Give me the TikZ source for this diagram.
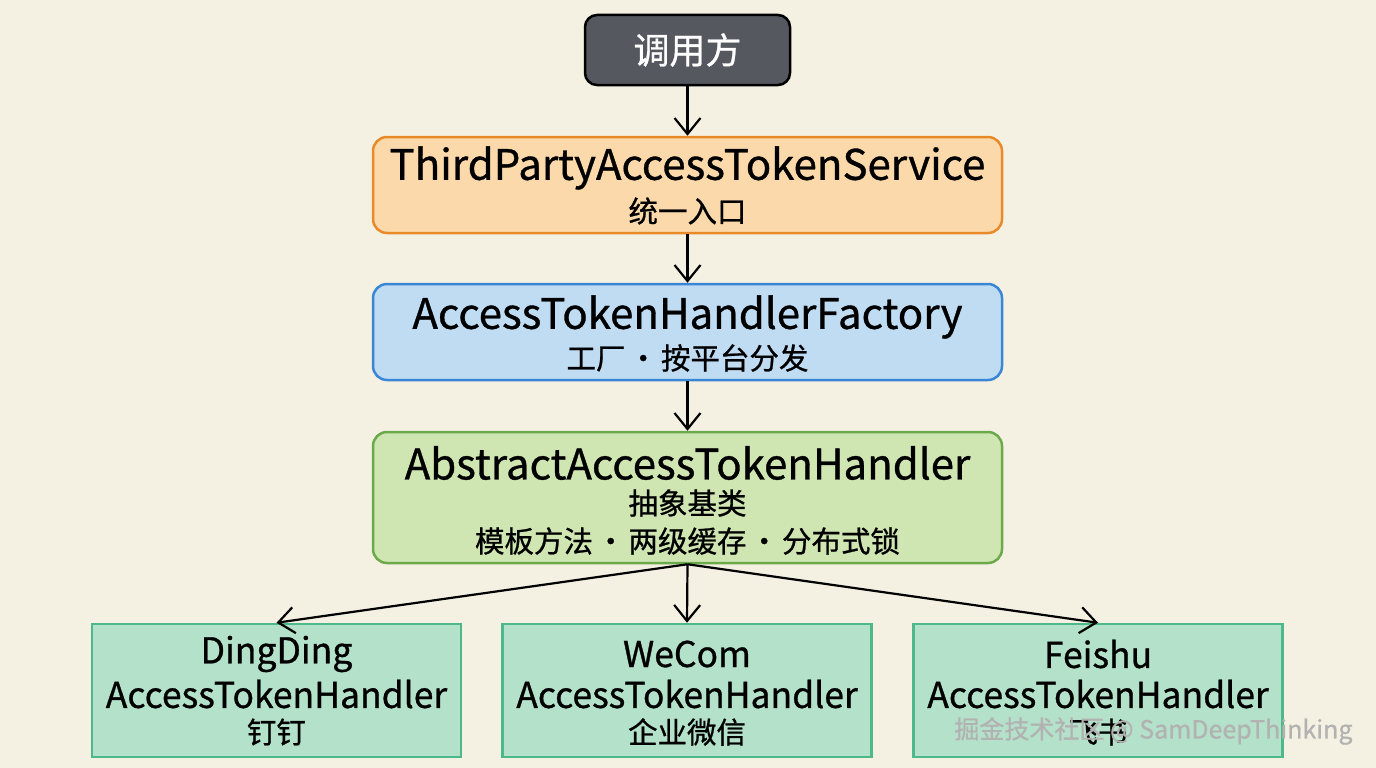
\documentclass[tikz,border=0pt]{standalone}
\usepackage{fontspec}
\setmainfont{Noto Sans CJK SC}[UprightFeatures={FakeBold=0.8}]
\usetikzlibrary{arrows.meta}
\definecolor{bg}{HTML}{F5F1E2}
\definecolor{callerfill}{HTML}{55585E}
\definecolor{orfill}{HTML}{FBD9AA}
\definecolor{ordraw}{HTML}{E98A2A}
\definecolor{blfill}{HTML}{BFDCF3}
\definecolor{bldraw}{HTML}{3A86D6}
\definecolor{grfill}{HTML}{CFE6B2}
\definecolor{grdraw}{HTML}{6BAA4B}
\definecolor{tlfill}{HTML}{B3E1C9}
\definecolor{tldraw}{HTML}{4DB88A}
\newcommand{\mydot}{\hspace{3pt}·\hspace{3pt}}
\tikzset{
  x=1pt, y=-1pt,
  mainbox/.style={rounded corners=14pt, line width=2.5pt, minimum width=629pt, inner sep=0pt},
  leafbox/.style={line width=2.5pt, draw=tldraw, fill=tlfill, minimum width=369pt, minimum height=133pt, inner sep=0pt},
  conn/.style={line width=2.2pt, -{Straight Barb[length=16pt,width=26pt,line width=2.2pt]}},
  big/.style={font=\fontsize{42}{48}\selectfont},
  leaftxt/.style={font=\fontsize{35.5}{42}\selectfont},
  small/.style={font=\fontsize{29.5}{34}\selectfont},
}
\begin{document}
\begin{tikzpicture}
\fill[bg] (0,0) rectangle (1376,768);
\useasboundingbox (0,0) rectangle (1376,768);
% caller
\node[rounded corners=12pt, line width=2.5pt, draw=black, fill=callerfill, minimum width=205pt, minimum height=70pt, text=white, font=\fontsize{36}{40}\selectfont] (caller) at (687.5,50) {调用方};
% service
\node[mainbox, draw=ordraw, fill=orfill, minimum height=96pt] (svc) at (687.5,185) {};
\node[big] at (687.5,168) {ThirdPartyAccessTokenService};
\node[small] at (687.5,211) {统一入口};
% factory
\node[mainbox, draw=bldraw, fill=blfill, minimum height=96pt] (fac) at (687.5,332) {};
\node[big] at (687.5,317) {AccessTokenHandlerFactory};
\node[small] at (687.5,358) {工厂\mydot 按平台分发};
% abstract
\node[mainbox, draw=grdraw, fill=grfill, minimum height=131pt] (abs) at (687.5,497.5) {};
\node[big] at (687.5,463) {AbstractAccessTokenHandler};
\node[small] at (687.5,503) {抽象基类};
\node[small] at (687.5,541) {模板方法\mydot 两级缓存\mydot 分布式锁};
% leaves
\node[leafbox] (dd) at (276.5,690.5) {};
\node[leaftxt] at (276.5,654) {DingDing};
\node[leaftxt] at (276.5,694) {AccessTokenHandler};
\node[small] at (276.5,732) {钉钉};
\node[leafbox] (wc) at (687,690.5) {};
\node[leaftxt] at (687,654) {WeCom};
\node[leaftxt] at (687,694) {AccessTokenHandler};
\node[small] at (687,732) {企业微信};
\node[leafbox] (fs) at (1098,690.5) {};
\node[leaftxt] at (1098,654) {Feishu};
\node[leaftxt] at (1098,694) {AccessTokenHandler};
\node[small] at (1098,732) {飞书};
% connectors
\draw[conn] (caller.south) -- (svc.north);
\draw[conn] (svc.south) -- (fac.north);
\draw[conn] (fac.south) -- (abs.north);
\draw[conn] (abs.south) -- (dd.north);
\draw[conn] (abs.south) -- (wc.north);
\draw[conn] (abs.south) -- (fs.north);
% watermark
\node[anchor=east, text=gray!60, font=\fontsize{25}{30}\selectfont] (wm) at (1356,731) {掘金技术社区 @ SamDeepThinking};
\end{tikzpicture}
\end{document}
